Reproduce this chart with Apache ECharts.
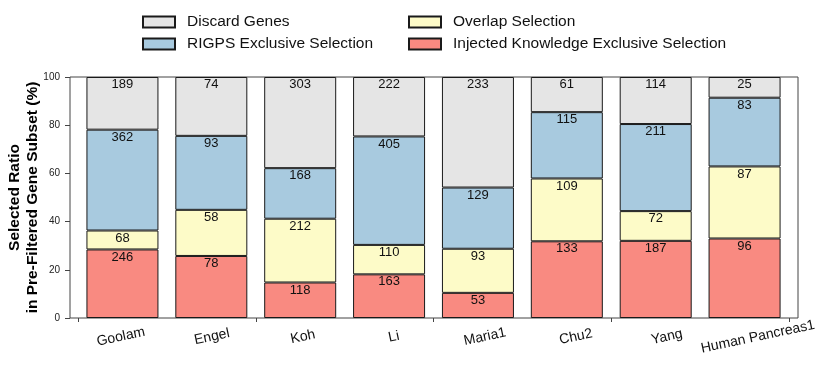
<!DOCTYPE html>
<html>
<head>
<meta charset="utf-8">
<script src="https://cdn.jsdelivr.net/npm/echarts@6/dist/echarts.min.js"></script>
<style>
  html, body { margin: 0; padding: 0; background: #fff; }
  #chart { width: 831px; height: 370px; }
</style>
</head>
<body>
<div id="chart"></div>
<script>
// gene counts per dataset, bottom to top of each stack
const categories = ['Goolam', 'Engel', 'Koh', 'Li', 'Maria1', 'Chu2', 'Yang', 'Human Pancreas1'];
const injected = [246, 78, 118, 163, 53, 133, 187, 96];
const overlap = [68, 58, 212, 110, 93, 109, 72, 87];
const rigps = [362, 93, 168, 405, 129, 115, 211, 83];
const discard = [189, 74, 303, 222, 233, 61, 114, 25];
const yTicks = [0, 20, 40, 60, 80, 100];

const totals = categories.map((c, i) => injected[i] + overlap[i] + rigps[i] + discard[i]);
// bar height = share of the pre-filtered subset, label = raw count
const toRatio = arr => arr.map((v, i) => ({ value: v / totals[i] * 100, count: v }));

const font = "'Liberation Sans', Arial, Helvetica, sans-serif";

function makeSeries(name, arr, color) {
  return {
    name: name,
    type: 'bar',
    stack: 'all',
    xAxisIndex: 1,
    yAxisIndex: 1,
    barWidth: 72,
    data: toRatio(arr),
    itemStyle: { color: color, borderColor: '#1a1a1a', borderWidth: 1 },
    label: {
      show: true,
      position: 'insideTop',
      distance: 1,
      fontSize: 13,
      color: '#111',
      fontFamily: font,
      formatter: p => p.data.count
    }
  };
}

const legendBase = {
  orient: 'vertical',
  top: 9,
  itemWidth: 32,
  itemHeight: 11,
  itemGap: 6,
  icon: 'rect',
  selectedMode: false,
  textStyle: { fontSize: 15.5, color: '#111', fontFamily: font, padding: [0, 0, 0, 7] }
};

const yRange = { type: 'value', min: yTicks[0], max: yTicks[yTicks.length - 1], interval: yTicks[1] - yTicks[0] };

const myChart = echarts.init(document.getElementById('chart'));
const option = {
  animation: false,
  textStyle: { fontFamily: font },
  legend: [
    Object.assign({}, legendBase, { left: 137, data: ['Discard Genes', 'RIGPS Exclusive Selection'] }),
    Object.assign({}, legendBase, { left: 403, data: ['Overlap Selection', 'Injected Knowledge Exclusive Selection'] })
  ],
  grid: [
    // outer frame, y ticks and category labels
    { left: 70, right: 33, top: 77, bottom: 52, show: true, borderColor: '#444', borderWidth: 1,
      backgroundColor: 'transparent', containLabel: false, outerBoundsMode: 'none' },
    // bars and boundary ticks
    { left: 78, right: 42, top: 77, bottom: 52, containLabel: false, outerBoundsMode: 'none' }
  ],
  xAxis: [
    {
      gridIndex: 0,
      type: 'category',
      data: categories,
      axisLine: { show: false },
      axisTick: { show: false },
      axisLabel: {
        interval: 0,
        rotate: 12,
        align: 'center',
        verticalAlign: 'middle',
        margin: 20,
        padding: [0, 0, 0, 11],
        fontSize: 14,
        color: '#111',
        fontFamily: font
      }
    },
    {
      gridIndex: 1,
      type: 'category',
      data: categories,
      axisLine: { show: false },
      axisTick: { show: true, length: 4, lineStyle: { color: '#444' } },
      axisLabel: { show: false }
    }
  ],
  yAxis: [
    Object.assign({}, yRange, {
      gridIndex: 0,
      name: 'Selected Ratio\nin Pre-Filtered Gene Subset (%)',
      nameLocation: 'middle',
      nameGap: 28,
      nameMoveOverlap: false,
      nameTextStyle: { fontSize: 15.5, fontWeight: 'bold', color: '#000', lineHeight: 18, fontFamily: font },
      axisLine: { show: false },
      axisTick: { show: true, length: 5, lineStyle: { color: '#444' } },
      axisLabel: { fontSize: 10, color: '#222', margin: 10, fontFamily: font },
      splitLine: { show: false }
    }),
    Object.assign({}, yRange, {
      gridIndex: 1,
      axisLine: { show: false },
      axisTick: { show: false },
      axisLabel: { show: false },
      splitLine: { show: false }
    })
  ],
  series: [
    makeSeries('Injected Knowledge Exclusive Selection', injected, '#f98a81'),
    makeSeries('Overlap Selection', overlap, '#fdfbc8'),
    makeSeries('RIGPS Exclusive Selection', rigps, '#a8cadf'),
    makeSeries('Discard Genes', discard, '#e5e5e5')
  ]
};
myChart.setOption(option);
</script>
</body>
</html>
